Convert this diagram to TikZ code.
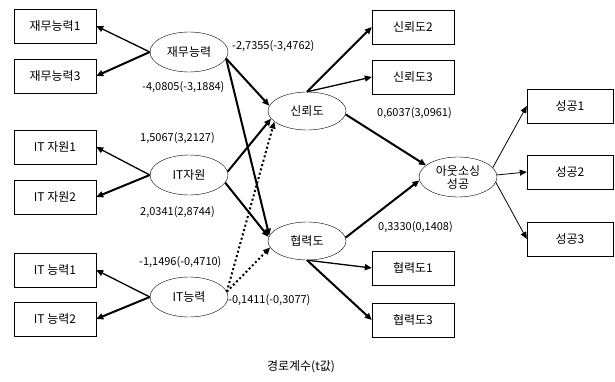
\documentclass[tikz,border=0pt]{standalone}
\usepackage{fontspec}
\setmainfont{Noto Sans CJK KR}
\usetikzlibrary{arrows.meta,shapes.geometric}

\begin{document}
\begin{tikzpicture}[x=1pt,y=-1pt,
        box/.style={draw,fill=white,minimum width=82pt,minimum height=34pt,inner sep=0pt,font=\fontsize{12}{14}\selectfont},
        lat/.style={draw,ellipse,fill=white,minimum width=78pt,minimum height=40pt,inner sep=0pt,font=\fontsize{12}{13}\selectfont},
        coef/.style={anchor=west,inner sep=0pt,font=\fontsize{11}{12}\selectfont},
        lnk/.style={-{Triangle[length=7pt,width=6pt]},line width=0.8pt},
        midlnk/.style={lnk,line width=1.3pt},
        boldlnk/.style={lnk,line width=2pt},
        dotlnk/.style={lnk,line width=2pt,dash pattern=on 2pt off 2.5pt}]
    \useasboundingbox (0,0) rectangle (615,382);

    \node[box] (jm1) at (55,26) {재무능력1};
    \node[box] (jm3) at (55,76) {재무능력3};
    \node[box] (its1) at (55,147) {IT 자원1};
    \node[box] (its2) at (55,197) {IT 자원2};
    \node[box] (itn1) at (55,270) {IT 능력1};
    \node[box] (itn2) at (55,319) {IT 능력2};

    \node[lat] (jm) at (189,52) {재무능력};
    \node[lat] (its) at (189,175) {IT자원};
    \node[lat] (itn) at (189,297) {IT능력};

    \node[lat,minimum height=38pt] (sr) at (307,111) {신뢰도};
    \node[lat,minimum height=38pt] (hr) at (307,241) {협력도};
    \node[lat,align=center] (ao) at (458,177) {아웃소싱\\성공};

    \node[box] (sr2) at (413,27) {신뢰도2};
    \node[box] (sr3) at (413,77) {신뢰도3};
    \node[box] (hr1) at (413,268) {협력도1};
    \node[box] (hr3) at (413,320) {협력도3};
    \node[box,minimum width=86pt] (sg1) at (570,106) {성공1};
    \node[box,minimum width=86pt] (sg2) at (570,172) {성공2};
    \node[box,minimum width=86pt] (sg3) at (570,239) {성공3};

    \draw[midlnk] (jm.west) -- (jm1.east);
    \draw[boldlnk] (jm.west) -- (jm3.east);
    \draw[midlnk] (its.west) -- (its1.east);
    \draw[boldlnk] (its.west) -- (its2.east);
    \draw[midlnk] (itn.west) -- (itn1.east);
    \draw[boldlnk] (itn.west) -- (itn2.east);

    \draw[boldlnk] (jm.-10) -- (sr.172);
    \draw[boldlnk] (jm.-10) -- (hr.172);
    \draw[boldlnk] (its.5) -- (sr.192);
    \draw[boldlnk] (its.-12) -- (hr.174);
    \draw[dotlnk] (itn.8) -- (sr.198);
    \draw[dotlnk] (itn.8) -- (hr.190);

    \draw[boldlnk] (sr.north) -- (sr2.west);
    \draw[midlnk] (sr.north) -- (sr3.west);
    \draw[midlnk] (hr.south) -- (hr1.west);
    \draw[boldlnk] (hr.south) -- (hr3.west);
    \draw[boldlnk] (sr.-5) -- (ao.160);
    \draw[boldlnk] (hr.5) -- (ao.185);

    \draw[lnk] (ao.15) -- (sg1.west);
    \draw[lnk] (ao.3) -- (sg2.west);
    \draw[lnk] (ao.-8) -- (sg3.west);

    \node[coef] (c1) at (232,46) {-2,7355(-3,4762)};
    \node[coef] (c2) at (142,87) {-4,0805(-3,1884)};
    \node[coef] (c3) at (140,138) {1,5067(3,2127)};
    \node[coef] (c4) at (140,212) {2,0341(2,8744)};
    \node[coef] (c5) at (139,262) {-1,1496(-0,4710)};
    \node[coef] (c6) at (228,300) {-0,1411(-0,3077)};
    \node[coef] (c7) at (377,113) {0,6037(3,0961)};
    \node[coef] (c8) at (378,227) {0,3330(0,1408)};

    \node[font=\fontsize{12}{14}\selectfont] (cap) at (301,367) {경로계수(t값)};
\end{tikzpicture}
\end{document}
